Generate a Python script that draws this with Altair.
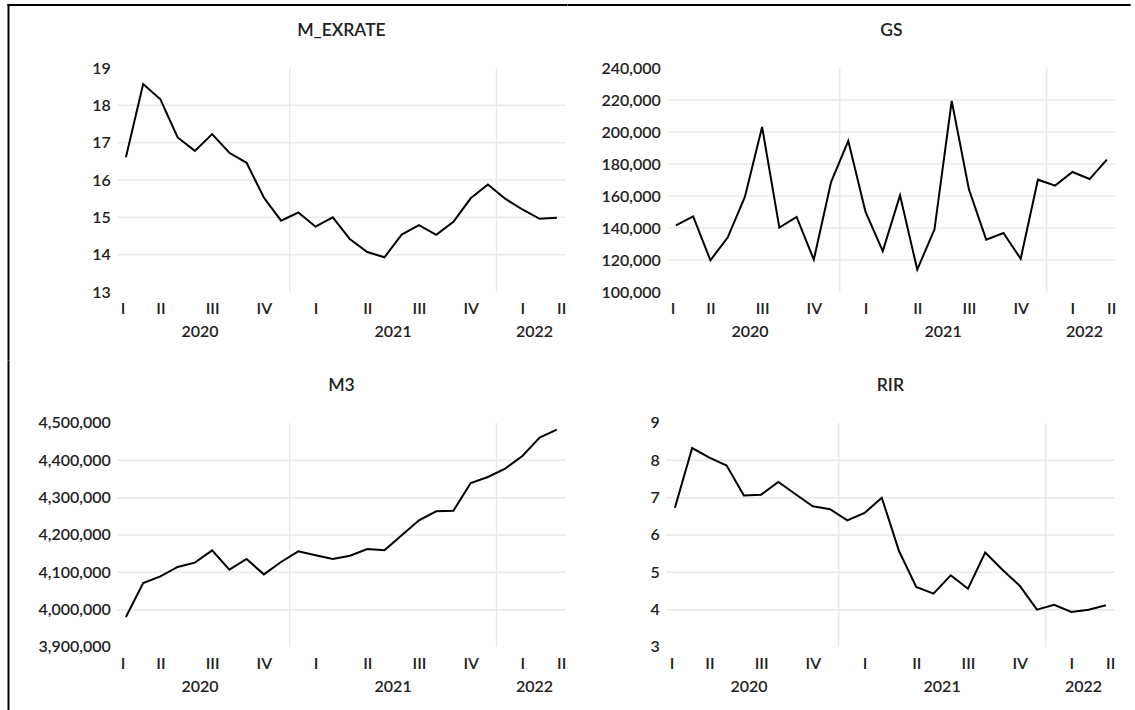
import altair as alt
import pandas as pd

# ---------------- data ----------------
periods = list(range(26))
m_exrate = [16.61, 18.57, 18.16, 17.14, 16.78, 17.23, 16.73, 16.46, 15.53, 14.91,
            15.13, 14.75, 15.00, 14.41, 14.07, 13.93, 14.54, 14.79, 14.53, 14.88,
            15.51, 15.88, 15.50, 15.21, 14.96, 14.99]
gs = [141700, 147300, 119800, 134000, 159400, 203100, 140200, 146900, 120200, 168750,
      194400, 150000, 125600, 160400, 114000, 139200, 219400, 164000, 132700, 136900,
      120800, 170200, 166500, 175000, 170600, 182700]
m3 = [3980400, 4071400, 4089300, 4114300, 4125900, 4158900, 4107100, 4135700, 4094600, 4127700,
      4156200, 4145500, 4135700, 4144600, 4162500, 4158900, 4199100, 4239300, 4263400, 4265200,
      4339300, 4355400, 4377700, 4411600, 4460700, 4482100]
rir = [6.73, 8.33, 8.07, 7.86, 7.06, 7.08, 7.42, 7.09, 6.77, 6.69,
       6.39, 6.59, 7.00, 5.57, 4.61, 4.43, 4.92, 4.56, 5.53, 5.07,
       4.64, 4.00, 4.13, 3.94, 4.00, 4.12]

titles = ["M_EXRATE", "GS", "M3", "RIR"]
quarter_pos = [-0.2, 2, 5, 8, 11, 14, 17, 20, 23, 25.25]
quarter_labels = ["I", "II", "III", "IV", "I", "II", "III", "IV", "I", "II"]
year_pos = [4.3, 15.5, 23.7]
year_labels = ["2020", "2021", "2022"]
year_breaks = [9.5, 21.5]

y_ticks = {
    "M_EXRATE": [13, 14, 15, 16, 17, 18, 19],
    "GS": [100000, 120000, 140000, 160000, 180000, 200000, 220000, 240000],
    "M3": [3900000, 4000000, 4100000, 4200000, 4300000, 4400000, 4500000],
    "RIR": [3, 4, 5, 6, 7, 8, 9],
}
y_format = {"M_EXRATE": "d", "GS": ",d", "M3": ",d", "RIR": "d"}
series = {"M_EXRATE": m_exrate, "GS": gs, "M3": m3, "RIR": rir}

# ---------------- style ----------------
FONT = "Lato"
WEIGHT = 600
TXT = "#222222"
GRID = "#e8e8e8"
W, H = 448.2, 224

label_expr = ""
for p, l in zip(quarter_pos, quarter_labels):
    label_expr += f"datum.value == {p} ? '{l}' : "
label_expr += "''"

X = alt.X("t:Q",
          scale=alt.Scale(domain=[-0.5, 25.5], nice=False, zero=False),
          axis=alt.Axis(values=quarter_pos, labelExpr=label_expr, ticks=False, tickSize=0,
                        domain=False, grid=False, labelPadding=8.4, labelFlush=False,
                        labelOverlap=False, labelBound=False, title=None))


def frame_rect(x, x2, y, y2, color="black"):
    # thin filled bar used as the outer picture frame
    return alt.Chart(pd.DataFrame({"a": [0]})).mark_rect(
        color=color, strokeWidth=0).encode(
        x=alt.value(x), x2=alt.value(x2), y=alt.value(y), y2=alt.value(y2))


def panel(name, frames):
    vals = series[name]
    ticks = y_ticks[name]
    Y = alt.Y("v:Q",
              scale=alt.Scale(domain=[ticks[0], ticks[-1]], nice=False, zero=False),
              axis=alt.Axis(values=ticks, format=y_format[name], ticks=False, tickSize=0,
                            domain=False, grid=False, labelPadding=7, title=None))
    df = pd.DataFrame({"t": periods, "v": vals})
    hgrid = alt.Chart(pd.DataFrame({"v": ticks[1:-1]})).mark_rule(
        color=GRID, strokeWidth=1.5).encode(y=Y)
    vgrid = alt.Chart(pd.DataFrame({"t": year_breaks})).mark_rule(
        color=GRID, strokeWidth=1.5).encode(x=X)
    line = alt.Chart(df).mark_line(color="black", strokeWidth=2,
                                   strokeJoin="miter").encode(x=X, y=Y)
    years = alt.Chart(pd.DataFrame({"t": year_pos, "lab": year_labels})).mark_text(
        font=FONT, fontSize=16, fontWeight=WEIGHT, color=TXT, baseline="middle",
        align="center").encode(x=X, y=alt.value(H + 39.8), text="lab:N")
    ttl = alt.Chart(pd.DataFrame({"name": [name]})).mark_text(
        font=FONT, fontSize=17.5, fontWeight=WEIGHT, color=TXT, baseline="middle",
        align="center").encode(x=alt.value(W / 2), y=alt.value(-37), text="name:N")
    layers = [hgrid, vgrid, line, years, ttl] + frames
    return alt.layer(*layers).properties(width=W, height=H)


p1 = panel("M_EXRATE", [frame_rect(-109.8, -107.8, -64, H + 68),
                        frame_rect(-109.8, W + 1.5, -64, -62)])
p2 = panel("GS", [frame_rect(-99.9, 463.3, -64, -62)])
p3 = panel("M3", [frame_rect(-109.8, -107.8, -62.7, 287)])
p4 = panel("RIR", [frame_rect(-99.9, 0, -62.7, -61.7, color="white")])

row1 = alt.hconcat(p1, p2, spacing=0, bounds="full")
row2 = alt.hconcat(p3, p4, spacing=0, bounds="full")

chart = alt.vconcat(row1, row2, spacing=0, bounds="full").properties(
    padding={"left": 7.3, "top": 4, "right": 0, "bottom": 0},
    background="white",
).configure_view(stroke=None).configure_axis(
    labelFont=FONT, labelFontSize=16, labelFontWeight=WEIGHT, labelColor=TXT
)

chart.save("out.html", embed_options={"renderer": "svg", "actions": False})
